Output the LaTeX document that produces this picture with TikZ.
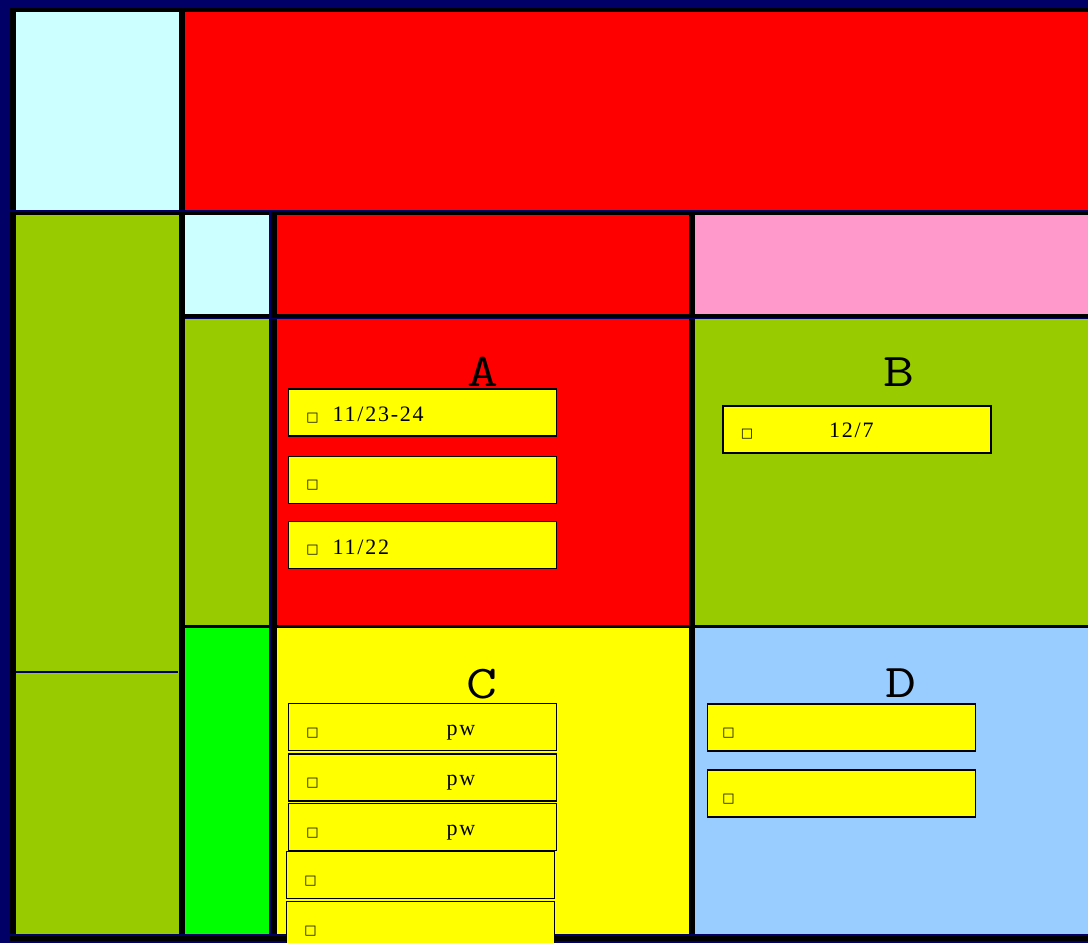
\documentclass[tikz,border=0pt]{standalone}
\usepackage{fontspec}
\setmainfont{Liberation Serif}
\newfontfamily\markfont{DejaVu Sans}
\newfontfamily\datefont[LetterSpace=8]{Liberation Serif}
\usetikzlibrary{positioning}

\definecolor{framenavy}{HTML}{000066}
\definecolor{paleCyan}{HTML}{CCFFFF}
\definecolor{cellRed}{HTML}{FF0000}
\definecolor{cellOlive}{HTML}{99CC00}
\definecolor{cellPink}{HTML}{FF99CC}
\definecolor{cellLime}{HTML}{00FF00}
\definecolor{cellYellow}{HTML}{FFFF00}
\definecolor{cellSky}{HTML}{99CCFF}

\tikzset{
  notebox/.style={draw=black, line width=1.6pt, fill=cellYellow,
    minimum width=268pt, minimum height=47pt, inner sep=0pt, outer sep=0pt},
  boxmark/.style={font=\markfont\fontsize{13}{13}\selectfont, inner sep=0pt},
  notetext/.style={font=\datefont\fontsize{22}{22}\selectfont, inner sep=0pt, anchor=base west},
  grouplabel/.style={font=\ttfamily\fontsize{47}{47}\selectfont, xscale=1.28,
    inner sep=0pt, anchor=base},
  navyline/.style={framenavy, line width=2pt}
}

\begin{document}
\begin{tikzpicture}[x=1pt, y=-1pt]
\useasboundingbox (0,0) rectangle (1088,943);

% frame
\fill[framenavy] (0,0) rectangle (1088,943);
\fill[black] (10,8) rectangle (1088,941);

% cells
\foreach \xa/\ya/\xb/\yb/\c in {
  16/12/179/210/paleCyan, 185/12/1088/210/cellRed,
  16/215/179/934/cellOlive,
  185/215/269/314/paleCyan, 185/319/269/625/cellOlive, 185/628/269/934/cellLime,
  277/215/689/314/cellRed, 695/215/1088/314/cellPink,
  277/319/689/625/cellRed, 695/319/1088/625/cellOlive,
  277/628/689/934/cellYellow, 695/628/1088/934/cellSky}
  \fill[\c] (\xa,\ya) rectangle (\xb,\yb);

% thin navy rules
\draw[navyline] (10,211) -- (1088,211);
\draw[navyline, line width=1.5pt] (185,318.5) -- (1088,318.5);
\draw[navyline] (270,212) -- (270,936);
\draw[navyline] (10,935) -- (1088,935);
\draw[navyline] (16,672) -- (178,672);

% group A
\node[grouplabel] (labA) at (483,386) {A};
\node[notebox] (a1) at (422.5,412.5) {};
\node[notebox] (a2) at (422.5,480) {};
\node[notebox] (a3) at (422.5,545) {};
\foreach \n in {a1,a2,a3}
  \node[boxmark] (\n m) at ([xshift=24pt, yshift=-5.5pt]\n.west) {□};
\node[notetext] (a1t) at ([xshift=44pt, yshift=-8.5pt]a1.west) {11/23-24};
\node[notetext] (a3t) at ([xshift=44pt, yshift=-9pt]a3.west) {11/22};

% group B
\node[grouplabel] (labB) at (899,386) {B};
\node[notebox] (b1) at (857,429.5) {};
\node[boxmark] (b1m) at ([xshift=24pt, yshift=-5pt]b1.west) {□};
\node[notetext] (b1t) at ([xshift=106pt, yshift=-7.5pt]b1.west) {12/7};

% group C
\node[grouplabel] (labC) at (481.5,698) {C};
\node[notebox] (c1) at (422.5,727) {};
\node[notebox] (c2) at (422.5,777.5) {};
\node[notebox] (c3) at (422.5,827) {};
\node[notebox] (c4) at (420.5,875) {};
\node[notebox] (c5) at (420.5,925) {};
\foreach \n in {c1,c2,c3,c4,c5}
  \node[boxmark] (\n m) at ([xshift=24pt, yshift=-6pt]\n.west) {□};
\foreach \n in {c1,c2,c3}
  \node[notetext] (\n t) at ([xshift=158pt, yshift=-8pt]\n.west) {pw};

% group D
\node[grouplabel] (labD) at (900.5,697) {D};
\node[notebox] (d1) at (841.5,727.5) {};
\node[notebox] (d2) at (841.5,793.5) {};
\foreach \n in {d1,d2}
  \node[boxmark] (\n m) at ([xshift=21pt, yshift=-5.5pt]\n.west) {□};
\end{tikzpicture}
\end{document}
